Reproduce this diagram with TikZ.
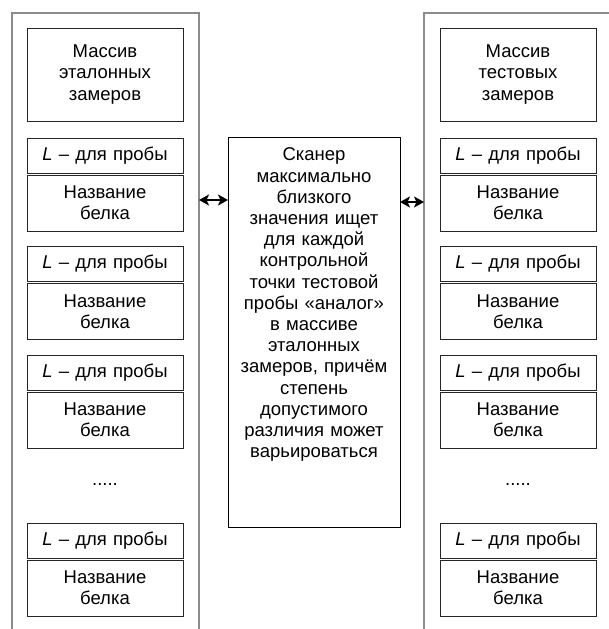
\documentclass[tikz,border=0pt]{standalone}
\usepackage{fontspec}
\setmainfont{Liberation Sans}
\usetikzlibrary{arrows.meta, positioning}

\begin{document}
\begin{tikzpicture}[
    x=1pt, y=-1pt,
    every node/.style={
      font=\fontsize{18.5}{21.2}\selectfont,
      inner sep=0pt, outer sep=0pt
    },
    frame/.style={
      rectangle, draw=black!45, line width=1.5pt,
      anchor=north west,
      minimum width=187pt, minimum height=660pt
    },
    massbox/.style={
      rectangle, draw=black!85, line width=0.9pt,
      minimum width=156pt, minimum height=93pt,
      text width=150pt, align=center
    },
    lbox/.style={
      rectangle, draw=black!85, line width=0.9pt,
      minimum width=156pt, minimum height=35pt,
      text width=150pt, align=center
    },
    namebox/.style={
      rectangle, draw=black!85, line width=0.9pt,
      minimum width=156pt, minimum height=56pt,
      text width=150pt, align=center
    },
    scanbox/.style={
      rectangle, draw=black, line width=0.9pt,
      minimum width=172pt, minimum height=390pt
    },
    dblarr/.style={
      {Stealth[length=10pt, width=11pt, inset=2.5pt]}-{Stealth[length=10pt, width=11pt, inset=2.5pt]},
      line width=2pt, color=black
    }
  ]

    \path[use as bounding box] (0,0) rectangle (609,629);
    \clip (0,0) rectangle (609,629);

    % left column: reference measurements
    \node[frame] (lframe) at (12,13) {};
    \node[massbox, anchor=north] (lmass) at (105,28)
      {Массив\\эталонных\\замеров};
    \node[lbox, below=17pt of lmass] (lprobe1) {\textit{L} – для пробы};
    \node[namebox, below=2pt of lprobe1] (lname1) {Название\\белка};
    \node[lbox, below=15.5pt of lname1] (lprobe2) {\textit{L} – для пробы};
    \node[namebox, below=2pt of lprobe2] (lname2) {Название\\белка};
    \node[lbox, below=15.5pt of lname2] (lprobe3) {\textit{L} – для пробы};
    \node[namebox, below=2pt of lprobe3] (lname3) {Название\\белка};
    \node[below=36pt of lname3] (ldots) {.....};
    \node[lbox, below=75pt of lname3] (lprobe4) {\textit{L} – для пробы};
    \node[namebox, below=2pt of lprobe4] (lname4) {Название\\белка};

    % right column: test measurements
    \node[frame] (rframe) at (424,13) {};
    \node[massbox, anchor=north] (rmass) at (518,28)
      {Массив\\тестовых\\замеров};
    \node[lbox, below=17pt of rmass] (rprobe1) {\textit{L} – для пробы};
    \node[namebox, below=2pt of rprobe1] (rname1) {Название\\белка};
    \node[lbox, below=15.5pt of rname1] (rprobe2) {\textit{L} – для пробы};
    \node[namebox, below=2pt of rprobe2] (rname2) {Название\\белка};
    \node[lbox, below=15.5pt of rname2] (rprobe3) {\textit{L} – для пробы};
    \node[namebox, below=2pt of rprobe3] (rname3) {Название\\белка};
    \node[below=36pt of rname3] (rdots) {.....};
    \node[lbox, below=75pt of rname3] (rprobe4) {\textit{L} – для пробы};
    \node[namebox, below=2pt of rprobe4] (rname4) {Название\\белка};

    % scanner in the middle
    \node[scanbox, anchor=north] (scan) at (314,137) {};
    \node[below=11pt of scan.north, text width=168pt, align=center] (scantext)
      {Сканер\\максимально\\близкого\\значения ищет\\для каждой\\контрольной\\точки тестовой\\пробы «аналог»\\в массиве\\эталонных\\замеров, причём\\степень\\допустимого\\различия может\\варьироваться};

    \coordinate (lhook) at ([yshift=-63pt]scan.north west);
    \coordinate (rhook) at ([yshift=-65pt]scan.north east);
    \draw[dblarr] (lframe.east |- lhook) -- (lhook);
    \draw[dblarr] (rhook) -- (rframe.west |- rhook);
  \end{tikzpicture}
\end{document}
